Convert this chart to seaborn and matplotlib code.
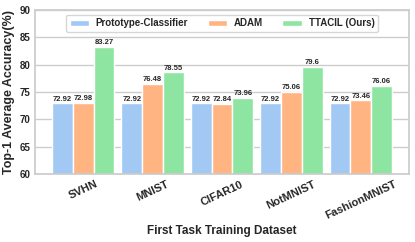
import matplotlib
matplotlib.use("Agg")
import matplotlib.pyplot as plt
import seaborn as sns
import pandas as pd

datasets = ["SVHN", "MNIST", "CIFAR10", "NotMNIST", "FashionMNIST"]
methods = ["Prototype-Classifier", "ADAM", "TTACIL (Ours)"]
proto = [72.92, 72.92, 72.92, 72.92, 72.92]
adam = [72.98, 76.48, 72.84, 75.06, 73.46]
ttacil = [83.27, 78.55, 73.96, 79.6, 76.06]
labels = [
    ["72.92", "72.92", "72.92", "72.92", "72.92"],
    ["72.98", "76.48", "72.84", "75.06", "73.46"],
    ["83.27", "78.55", "73.96", "79.6", "76.06"],
]

df = pd.DataFrame({
    "Dataset": datasets * 3,
    "Method": [m for m in methods for _ in datasets],
    "Acc": proto + adam + ttacil,
})

sns.set_theme(style="whitegrid")
plt.rcParams["font.family"] = ["Liberation Sans", "DejaVu Sans"]
plt.rcParams["font.weight"] = "bold"

fig, ax = plt.subplots(figsize=(4.15, 2.42), dpi=100)
sns.barplot(data=df, x="Dataset", y="Acc", hue="Method", palette="pastel",
            saturation=1, width=0.9, edgecolor="white", linewidth=1, ax=ax)

for cont, lab in zip(ax.containers, labels):
    ax.bar_label(cont, labels=lab, fontsize=5.5, fontweight="bold", padding=0.5)

ax.set_ylim(60, 90)
ax.set_xlim(-0.69, 4.69)
ax.set_yticks([60, 65, 70, 75, 80, 85, 90])
ax.set_xlabel("First Task Training Dataset", fontsize=8.5, fontweight="bold", labelpad=3)
ax.set_ylabel("Top-1 Average Accuracy(%)", fontsize=9, fontweight="bold", labelpad=3)
plt.xticks(rotation=25, fontsize=8, fontweight="bold")
plt.yticks(fontsize=7, fontweight="bold")
ax.tick_params(axis="both", length=0, pad=3.5)
ax.legend(loc="upper center", ncol=3, prop={"weight": "bold", "size": 7},
          handlelength=2.0, handletextpad=0.7, columnspacing=2.0)

fig.subplots_adjust(left=0.085, right=0.985, top=0.96, bottom=0.28)
fig.savefig("out.png", dpi=100)
